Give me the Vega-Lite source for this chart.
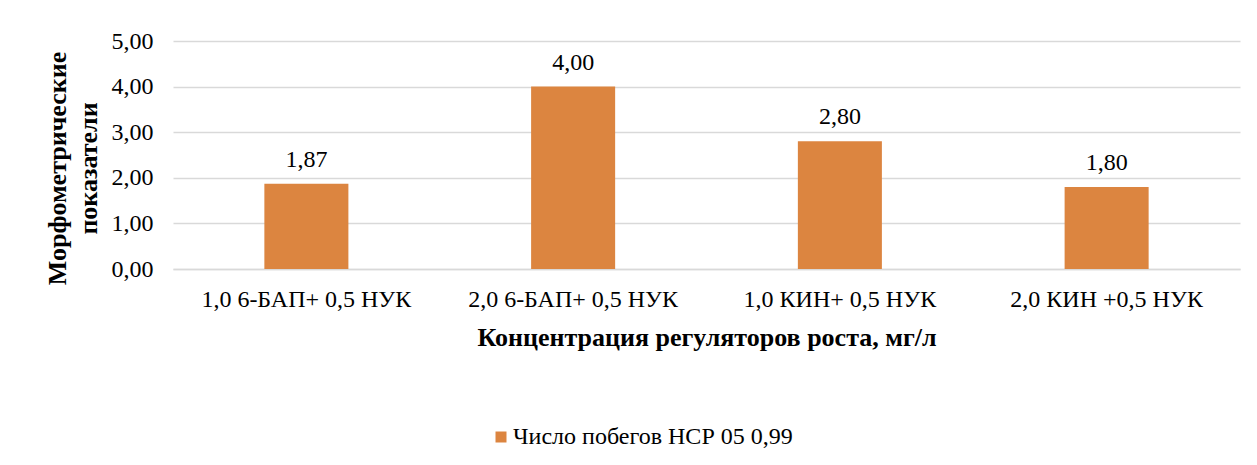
{
  "$schema": "https://vega.github.io/schema/vega-lite/v6.json",
  "autosize": {"type": "none"},
  "width": 1067,
  "height": 228,
  "padding": {"left": 173, "top": 41, "right": 17, "bottom": 196},
  "background": "white",
  "config": {
    "locale": {"number": {"decimal": ",", "thousands": " ", "grouping": [3], "currency": ["", ""]}},
    "font": "Times New Roman",
    "view": {"stroke": null}
  },
  "data": {
    "values": [
      {"cat": "1,0 6-БАП+ 0,5 НУК", "value": 1.87, "series": "Число побегов НСР 05 0,99"},
      {"cat": "2,0 6-БАП+ 0,5 НУК", "value": 4.0, "series": "Число побегов НСР 05 0,99"},
      {"cat": "1,0 КИН+ 0,5 НУК", "value": 2.8, "series": "Число побегов НСР 05 0,99"},
      {"cat": "2,0 КИН +0,5 НУК", "value": 1.8, "series": "Число побегов НСР 05 0,99"}
    ]
  },
  "encoding": {
    "x": {
      "field": "cat",
      "type": "nominal",
      "sort": null,
      "scale": {"paddingInner": 0.685, "paddingOuter": 0.3425},
      "axis": {
        "title": "Концентрация регуляторов роста, мг/л",
        "titleFont": "Times New Roman",
        "titleFontSize": 26,
        "titleFontWeight": "bold",
        "titleColor": "black",
        "titleBaseline": "alphabetic",
        "titleY": 76,
        "labelAngle": 0,
        "labelFont": "Times New Roman",
        "labelFontSize": 24,
        "labelLimit": 0,
        "labelColor": "black",
        "labelPadding": 18,
        "ticks": false,
        "tickSize": 0,
        "domain": true,
        "domainColor": "#D9D9D9",
        "domainWidth": 1.5
      }
    },
    "y": {
      "field": "value",
      "type": "quantitative",
      "scale": {"domain": [0, 5]},
      "axis": {
        "title": ["Морфометрические", "показатели"],
        "titleFont": "Times New Roman",
        "titleFontSize": 26,
        "titleFontWeight": "bold",
        "titleColor": "black",
        "titleAngle": 270,
        "titleAlign": "center",
        "titleBaseline": "alphabetic",
        "titleLineHeight": 31,
        "titleX": -108,
        "titleY": 127,
        "values": [0, 1, 2, 3, 4, 5],
        "format": ".2f",
        "labelFont": "Times New Roman",
        "labelFontSize": 24,
        "labelColor": "black",
        "labelPadding": 20,
        "ticks": false,
        "tickSize": 0,
        "domain": false,
        "grid": true,
        "gridColor": "#D9D9D9",
        "gridWidth": 1.5
      }
    }
  },
  "layer": [
    {
      "mark": {"type": "bar", "color": "#DC8540"},
      "encoding": {
        "color": {
          "field": "series",
          "type": "nominal",
          "scale": {"range": ["#DC8540"]},
          "legend": {
            "title": null,
            "orient": "none",
            "legendX": 316,
            "legendY": 384,
            "symbolType": "square",
            "symbolSize": 121,
            "symbolStrokeWidth": 0,
            "labelFont": "Times New Roman",
            "labelFontSize": 24,
            "labelLimit": 0,
            "labelColor": "black",
            "labelOffset": 0
          }
        }
      }
    },
    {
      "mark": {"type": "text", "dy": -17, "baseline": "alphabetic", "font": "Times New Roman", "fontSize": 24, "color": "black"},
      "encoding": {
        "text": {"field": "value", "type": "quantitative", "format": ".2f"}
      }
    }
  ]
}
